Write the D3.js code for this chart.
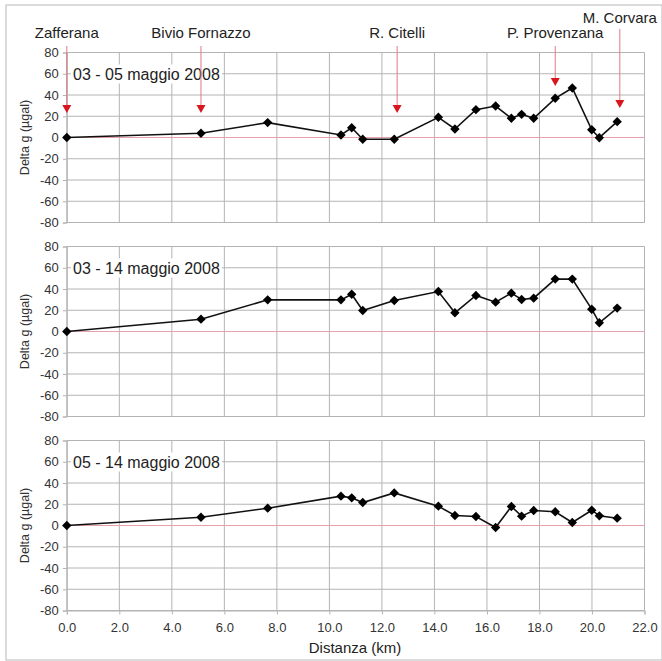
<!DOCTYPE html>
<html>
<head>
<meta charset="utf-8">
<script src="https://cdn.jsdelivr.net/npm/d3@7"></script>
<style>
  html, body { margin: 0; padding: 0; background: #fff; }
  svg { display: block; font-family: "Liberation Sans", Arial, sans-serif; }
</style>
</head>
<body>
<svg id="chart" width="662" height="661"></svg>
<script>
// ---- data ----
const distanceKm = [0, 5.11, 7.65, 10.44, 10.85, 11.27, 12.47, 14.15, 14.78, 15.58, 16.33, 16.93, 17.32, 17.78, 18.60, 19.25, 19.99, 20.28, 20.96];
const panelTitles = ["03 - 05 maggio 2008", "03 - 14 maggio 2008", "05 - 14 maggio 2008"];
const delta0305 = [0, 4, 14, 2.4, 9.2, -1.7, -1.7, 19, 8, 26.2, 29.6, 18.1, 21.8, 18.1, 36.9, 46.6, 7.3, -0.2, 14.9];
const delta0314 = [0, 11.6, 29.8, 29.8, 35.1, 19.8, 29.2, 37.6, 17.6, 33.9, 27.6, 36.1, 30.1, 31.4, 49.3, 49.3, 21.0, 8.2, 22.0];
const delta0514 = [0, 7.8, 16.3, 27.6, 26.0, 21.6, 30.7, 18.2, 9.4, 8.5, -1.9, 17.9, 8.8, 14.1, 12.9, 2.8, 14.4, 9.1, 6.9];
const stationNames = ["Zafferana", "Bivio Fornazzo", "R. Citelli", "P. Provenzana", "M. Corvara"];
const stationKm = [0, 5.11, 12.58, 18.60, 21.06];
const stationArrowValue = [23, 23, 23, 48.5, 27.8];
const stationLabelRaised = [false, false, false, false, true];
const xTicks = [0, 2, 4, 6, 8, 10, 12, 14, 16, 18, 20, 22];
const yTicks = [-80, -60, -40, -20, 0, 20, 40, 60, 80];
const xAxisTitle = "Distanza (km)";
const yAxisTitle = "Delta g (µgal)";

const series = [delta0305, delta0314, delta0514];

// ---- layout ----
const svg = d3.select("#chart");
const plotLeft = 66.8, plotRight = 644.5;
const panelTops = [52.5, 246.5, 440.5];
const panelH = 170;
const gridColor = "#b4b4b4";
const FONT = "Liberation Sans, Arial, sans-serif";

svg.append("rect").attr("x", 6).attr("y", 5).attr("width", 656).attr("height", 655)
  .attr("fill", "none").attr("stroke", "#c4c4c4").attr("stroke-width", 1.2);

const x = d3.scaleLinear().domain([0, 22]).range([plotLeft, plotRight]);

const diamond = d3.symbol().type(d3.symbolSquare).size(44);

series.forEach((vals, i) => {
  const top = panelTops[i];
  const y = d3.scaleLinear().domain([-80, 80]).range([top + panelH, top]);
  const g = svg.append("g");

  // horizontal grid
  g.append("g").selectAll("line").data(yTicks.filter(v => v !== 0)).join("line")
    .attr("x1", plotLeft).attr("x2", plotRight)
    .attr("y1", d => y(d)).attr("y2", d => y(d))
    .attr("stroke", gridColor).attr("stroke-width", 1);
  // vertical grid
  g.append("g").selectAll("line").data(xTicks).join("line")
    .attr("x1", d => x(d)).attr("x2", d => x(d))
    .attr("y1", top).attr("y2", top + panelH)
    .attr("stroke", gridColor).attr("stroke-width", 1);
  // zero line
  g.append("line").attr("x1", plotLeft).attr("x2", plotRight)
    .attr("y1", y(0)).attr("y2", y(0))
    .attr("stroke", "#e6a2a8").attr("stroke-width", 1);

  // y axis
  const yAxis = d3.axisLeft(y).tickValues(yTicks).tickSize(4).tickPadding(4).tickFormat(d => String(d));
  const ya = g.append("g").attr("transform", `translate(${plotLeft},0)`).call(yAxis);
  ya.select(".domain").attr("stroke", gridColor);
  ya.selectAll(".tick line").attr("stroke", gridColor);
  ya.selectAll("text").attr("font-size", 13).attr("fill", "#333").attr("font-family", FONT);

  if (i === 2) {
    const xAxis = d3.axisBottom(x).tickValues(xTicks).tickSize(4).tickPadding(8).tickFormat(d => d.toFixed(1));
    const xa = g.append("g").attr("transform", `translate(0,${top + panelH})`).call(xAxis);
    xa.select(".domain").attr("stroke", gridColor);
    xa.selectAll(".tick line").attr("stroke", gridColor);
    xa.selectAll("text").attr("font-size", 13).attr("fill", "#333").attr("font-family", FONT);
  } else {
    g.append("line").attr("x1", plotLeft).attr("x2", plotRight)
      .attr("y1", top + panelH).attr("y2", top + panelH).attr("stroke", gridColor);
  }

  // panel title with white background
  const tx = 73, ty = top + 27;
  const bgRect = g.append("rect").attr("fill", "#fff");
  const t = g.append("text").attr("x", tx).attr("y", ty)
    .attr("font-size", 16).attr("fill", "#222").attr("font-family", FONT).text(panelTitles[i]);
  const bb = t.node().getBBox();
  bgRect.attr("x", bb.x - 2).attr("y", bb.y - 1)
    .attr("width", bb.width + 4).attr("height", bb.height + 2);

  // y title
  g.append("text").attr("transform", `translate(29,${top + panelH / 2}) rotate(-90)`)
    .attr("text-anchor", "middle").attr("font-size", 12.5).attr("fill", "#333")
    .attr("font-family", FONT).text(yAxisTitle);

  // line
  const pts = distanceKm.map((d, k) => [d, vals[k]]);
  g.append("path").datum(pts)
    .attr("d", d3.line().x(d => x(d[0])).y(d => y(d[1])))
    .attr("fill", "none").attr("stroke", "#111").attr("stroke-width", 1.6);
  g.append("g").selectAll("path").data(pts).join("path")
    .attr("transform", d => `translate(${x(d[0])},${y(d[1])}) rotate(45)`)
    .attr("d", diamond).attr("fill", "#000");

  // station markers on first panel
  if (i === 0) {
    stationNames.forEach((name, k) => {
      const sx = x(stationKm[k]);
      const tipY = y(stationArrowValue[k]);
      const labelY = stationLabelRaised[k] ? 22.5 : 38;
      const lineStart = stationLabelRaised[k] ? 29 : 46;
      svg.append("line").attr("x1", sx).attr("x2", sx)
        .attr("y1", lineStart).attr("y2", tipY - 7)
        .attr("stroke", "#e07a84").attr("stroke-width", 1);
      svg.append("path")
        .attr("d", `M${sx - 4.5},${tipY - 8} L${sx + 4.5},${tipY - 8} L${sx},${tipY} Z`)
        .attr("fill", "#d8161e");
      svg.append("text").attr("x", sx).attr("y", labelY)
        .attr("text-anchor", "middle").attr("font-size", 15).attr("fill", "#222")
        .attr("font-family", FONT).text(name);
    });
  }
});

svg.append("text").attr("x", 355).attr("y", 653).attr("text-anchor", "middle")
  .attr("font-size", 15).attr("fill", "#222").attr("font-family", FONT).text(xAxisTitle);
</script>
</body>
</html>
